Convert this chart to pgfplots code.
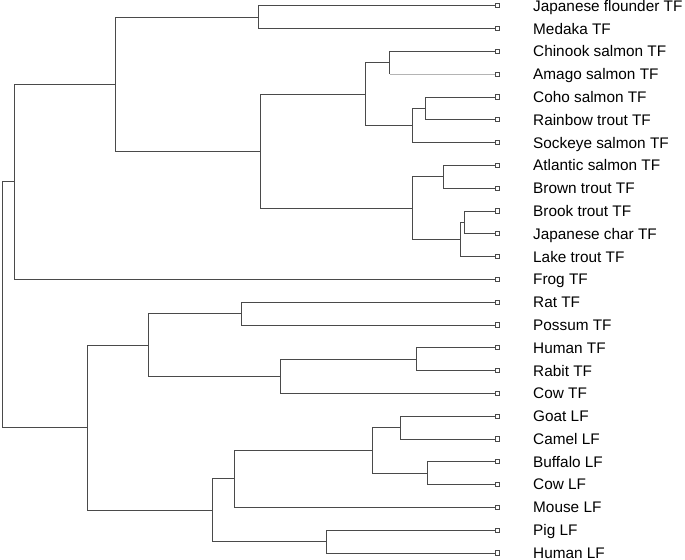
\documentclass[border=0pt]{standalone}
\usepackage{fontspec}
\setmainfont{Liberation Sans}
\usepackage{pgfplots}
\pgfplotsset{compat=1.18}
\definecolor{treegray}{HTML}{4A4A4A}
\definecolor{lightgray}{HTML}{B4B4B4}

\begin{document}
\begin{tikzpicture}
\begin{axis}[
    scale only axis,
    width  = 685bp,
    height = 560bp,
    xmin = 0, xmax = 685,
    ymin = -0.25, ymax = 24.31,
    y dir = reverse,
    hide axis,
    clip = false,
    br/.style = {treegray, line width=0.75pt, line join=miter},
]
% leaves sit at x = 497, y = 0 ... 24 (top to bottom)
% each clade: child1 -> node height -> child2
\addplot[br] coordinates {(497,0) (258.3,0) (258.3,1) (497,1)};
\addplot[br] coordinates {(497,2) (389.7,2) (389.7,3)};
\addplot[lightgray, line width=0.75pt] coordinates {(389.7,3) (497,3)};
\addplot[br] coordinates {(497,4) (425.7,4) (425.7,5) (497,5)};
\addplot[br] coordinates {(425.7,4.5) (412.3,4.5) (412.3,6) (497,6)};
\addplot[br] coordinates {(389.7,2.5) (365,2.5) (365,5.25) (412.3,5.25)};
\addplot[br] coordinates {(497,7) (443,7) (443,8) (497,8)};
\addplot[br] coordinates {(497,9) (464.7,9) (464.7,10) (497,10)};
\addplot[br] coordinates {(464.7,9.5) (460.3,9.5) (460.3,11) (497,11)};
\addplot[br] coordinates {(443,7.5) (412.3,7.5) (412.3,10.25) (460.3,10.25)};
\addplot[br] coordinates {(365,3.875) (260.3,3.875) (260.3,8.875) (412.3,8.875)};
\addplot[br] coordinates {(258.3,0.5) (115,0.5) (115,6.375) (260.3,6.375)};
\addplot[br] coordinates {(115,3.4375) (14,3.4375) (14,12) (497,12)};
\addplot[br] coordinates {(497,13) (241.7,13) (241.7,14) (497,14)};
\addplot[br] coordinates {(497,15) (416.7,15) (416.7,16) (497,16)};
\addplot[br] coordinates {(416.7,15.5) (280,15.5) (280,17) (497,17)};
\addplot[br] coordinates {(241.7,13.5) (148.7,13.5) (148.7,16.25) (280,16.25)};
\addplot[br] coordinates {(497,18) (400,18) (400,19) (497,19)};
\addplot[br] coordinates {(497,20) (427.7,20) (427.7,21) (497,21)};
\addplot[br] coordinates {(400,18.5) (372.7,18.5) (372.7,20.5) (427.7,20.5)};
\addplot[br] coordinates {(372.7,19.5) (234.3,19.5) (234.3,22) (497,22)};
\addplot[br] coordinates {(497,23) (326.3,23) (326.3,24) (497,24)};
\addplot[br] coordinates {(234.3,20.75) (212.3,20.75) (212.3,23.5) (326.3,23.5)};
\addplot[br] coordinates {(148.7,14.875) (87.3,14.875) (87.3,22.125) (212.3,22.125)};
\addplot[br] coordinates {(14,7.71875) (2,7.71875) (2,18.5) (87.3,18.5)};

% leaf markers
\addplot[only marks, mark=square*, mark size=2.1pt,
         mark options={fill=white, draw=treegray, line width=0.7pt}]
    coordinates {
    (497,0) (497,1) (497,2) (497,3) (497,4) (497,5) (497,6) (497,7)
    (497,8) (497,9) (497,10) (497,11) (497,12) (497,13) (497,14)
    (497,15) (497,16) (497,17) (497,18) (497,19) (497,20) (497,21)
    (497,22) (497,23) (497,24)};

\pgfplotsextra{
\begin{scope}[every node/.style={anchor=west, inner sep=0pt, text depth=0pt,
              font=\fontsize{15.4}{18}\selectfont}]
\node at (axis cs:533,0)  {Japanese flounder TF};
\node at (axis cs:533,1)  {Medaka TF};
\node at (axis cs:533,2)  {Chinook salmon TF};
\node at (axis cs:533,3)  {Amago salmon TF};
\node at (axis cs:533,4)  {Coho salmon TF};
\node at (axis cs:533,5)  {Rainbow trout TF};
\node at (axis cs:533,6)  {Sockeye salmon TF};
\node at (axis cs:533,7)  {Atlantic salmon TF};
\node at (axis cs:533,8)  {Brown trout TF};
\node at (axis cs:533,9)  {Brook trout TF};
\node at (axis cs:533,10) {Japanese char TF};
\node at (axis cs:533,11) {Lake trout TF};
\node at (axis cs:533,12) {Frog TF};
\node at (axis cs:533,13) {Rat TF};
\node at (axis cs:533,14) {Possum TF};
\node at (axis cs:533,15) {Human TF};
\node at (axis cs:533,16) {Rabit TF};
\node at (axis cs:533,17) {Cow TF};
\node at (axis cs:533,18) {Goat LF};
\node at (axis cs:533,19) {Camel LF};
\node at (axis cs:533,20) {Buffalo LF};
\node at (axis cs:533,21) {Cow LF};
\node at (axis cs:533,22) {Mouse LF};
\node at (axis cs:533,23) {Pig LF};
\node at (axis cs:533,24) {Human LF};
\end{scope}
}
\end{axis}
% page = the axis box, 685 x 560
\pgfresetboundingbox
\path (current axis.south west) rectangle (current axis.north east);
\end{tikzpicture}
\end{document}
